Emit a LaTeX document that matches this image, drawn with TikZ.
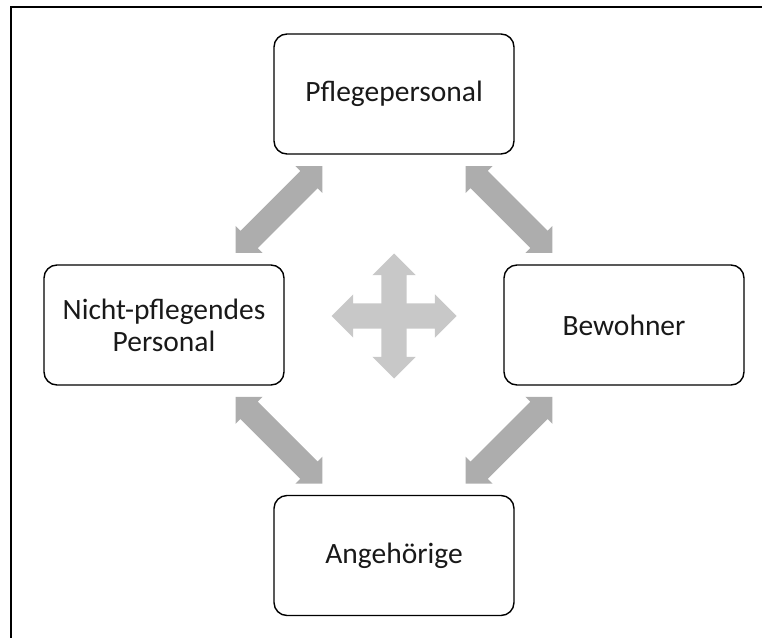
\documentclass[tikz,border=0pt]{standalone}
\usepackage{fontspec}
\setmainfont{Carlito}
\usetikzlibrary{shapes.arrows,calc}
\definecolor{arrowgray}{HTML}{ADADAD}
\definecolor{crossgray}{HTML}{C8C8C8}
\begin{document}
\begin{tikzpicture}[x=1pt,y=-1pt,
  box/.style={draw=black, line width=1.4pt, rounded corners=13pt, minimum width=240pt, minimum height=120pt, inner sep=0pt, align=center, font=\fontsize{29.5}{32}\selectfont, text=black!90},
  link/.style={double arrow, fill=arrowgray, draw=none, inner xsep=0pt, inner ysep=12pt, minimum height=123pt, double arrow head extend=7pt},
  crossarm/.style={double arrow, fill=crossgray, draw=none, inner xsep=0pt, inner ysep=12.5pt, minimum height=125pt, double arrow head extend=9pt}
]
\useasboundingbox (0,0) rectangle (762,637);
\clip (0,0) rectangle (762,637);
\draw[line width=1.4pt] (11,7) rectangle (800,700);

\node[box] (pp) at (394,94) {Pflegepersonal};
\node[box] (np) at (164,325) {Nicht-pflegendes\\Personal};
\node[box] (bw) at (624,325) {Bewohner};
\node[box] (ag) at (394,555.5) {Angehörige};

\node[link, rotate=45]  (a1) at ($(pp)!0.5!(np)$) {};
\node[link, rotate=-45] (a2) at ($(pp)!0.5!(bw)$) {};
\node[link, rotate=-45] (a3) at ($(np)!0.5!(ag)$) {};
\node[link, rotate=45]  (a4) at ($(bw)!0.5!(ag)$) {};

\node[crossarm] (ch) at (394,316) {};
\node[crossarm, rotate=90] (cv) at (394,316) {};
\end{tikzpicture}
\end{document}
